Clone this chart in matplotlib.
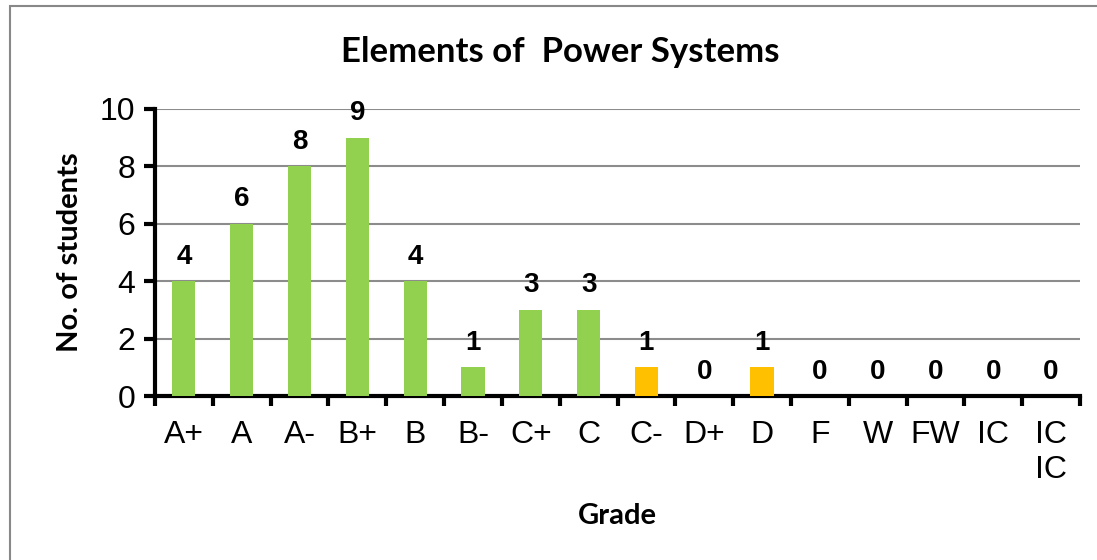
import matplotlib.pyplot as plt
from matplotlib.patches import Rectangle

# Data
grades = ["A+", "A", "A-", "B+", "B", "B-", "C+", "C", "C-", "D+", "D",
          "F", "W", "FW", "IC", "IC\nIC"]
students = [4, 6, 8, 9, 4, 1, 3, 3, 1, 0, 1, 0, 0, 0, 0, 0]
bar_colors = ["#92D050"] * 8 + ["#FFC000", "#92D050", "#FFC000"] + ["#92D050"] * 5

fig = plt.figure(figsize=(10.97, 5.6), dpi=100)
ax = fig.add_axes([155 / 1097, 1 - 396 / 560, (1080 - 155) / 1097, (396 - 109) / 560])

# outer border of chart area
fig.patches.append(Rectangle((10 / 1097, -0.1), 1.2, 1 - 6 / 560 + 0.1,
                             transform=fig.transFigure, fill=False,
                             edgecolor="#888888", linewidth=1.5))

x = list(range(len(grades)))
ax.bar(x, students, width=0.4, color=bar_colors, zorder=3)

for xi, v in zip(x, students):
    ax.text(xi, v + 0.4, str(v), ha="center", va="bottom",
            fontsize=20, fontweight="bold", family="Liberation Sans")

ax.set_xlim(-0.5, len(grades) - 0.5)
ax.set_ylim(0, 10)
ax.set_yticks([0, 2, 4, 6, 8, 10])
ax.yaxis.grid(True, color="#8c8c8c", linewidth=1.5, zorder=0)
ax.set_axisbelow(True)

# ticks between categories
ax.set_xticks([i - 0.5 for i in range(len(grades) + 1)], minor=False)
ax.set_xticklabels([])
ax.set_xticks(x, minor=True)
ax.set_xticklabels(grades, minor=True, fontsize=23, family="Liberation Sans",
                   linespacing=1.25)
ax.tick_params(axis="x", which="minor", length=0, pad=17)
ax.tick_params(axis="x", which="major", length=7, width=3, direction="out")
ax.tick_params(axis="y", length=8, width=3, direction="out", labelsize=23, pad=6)
for lab in ax.get_yticklabels():
    lab.set_family("Liberation Sans")

for s in ["top", "right"]:
    ax.spines[s].set_visible(False)
for s in ["left", "bottom"]:
    ax.spines[s].set_linewidth(3)

fig.text(560 / 1097, 1 - 52 / 560, "Elements of  Power Systems", fontsize=25,
         fontweight="bold", family="Lato", ha="center", va="center")
ax.set_ylabel("No. of students", fontsize=21, fontweight="bold", family="Lato", labelpad=12)
ax.set_xlabel("Grade", fontsize=21, fontweight="bold", family="Lato", labelpad=13)

fig.savefig("out.png", dpi=100)
